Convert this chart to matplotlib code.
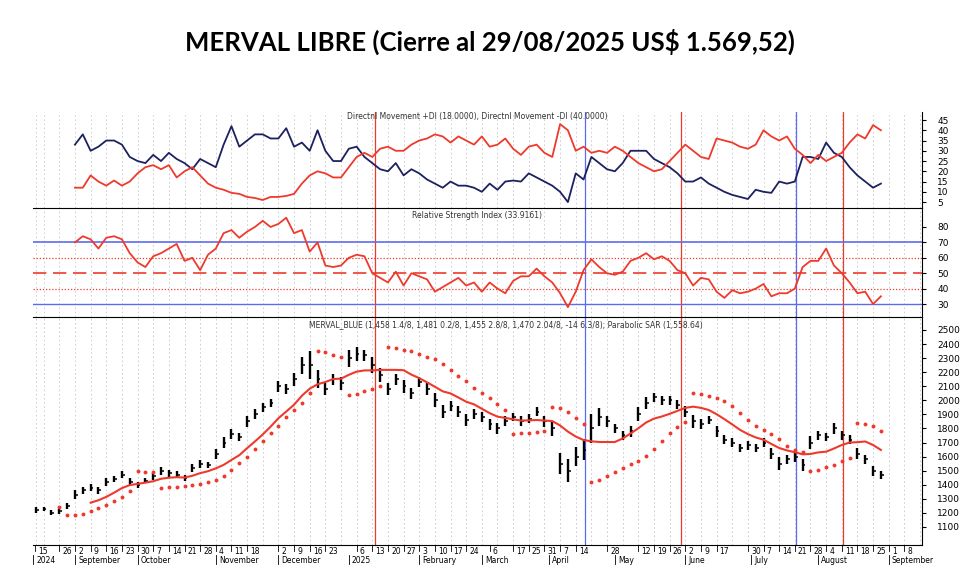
import numpy as np
import pandas as pd
import matplotlib
matplotlib.use("Agg")
import matplotlib.pyplot as plt

# x positions are in weeks since Mon 12 Aug 2024, two samples per week
WEEK = np.arange(0.5, 55.0, 0.5)

CLOSE = [1220, 1230, 1200, 1210, 1250,
         1330, 1360, 1380, 1360, 1420, 1440, 1470, 1420, 1400, 1430, 1460, 1500, 1480, 1470,
         1450, 1520, 1550, 1540, 1620, 1700, 1760, 1740, 1850, 1900, 1950, 1980, 2100, 2080,
         2150, 2250, 2250, 2150, 2080, 2150, 2120, 2300, 2330, 2320, 2250, 2180, 2080, 2150,
         2100, 2050, 2130, 2080, 2000, 1920, 1960, 1920, 1860, 1900, 1880, 1830, 1800, 1850,
         1880, 1850, 1870, 1920, 1850, 1800, 1550, 1500, 1600, 1650, 1800, 1880, 1850, 1800,
         1750, 1780, 1900, 1980, 2020, 2000, 2000, 1970, 1920, 1850, 1830, 1860, 1780, 1720,
         1700, 1660, 1680, 1660, 1700, 1620, 1550, 1580, 1600, 1540, 1700, 1750, 1740, 1800,
         1750, 1720, 1620, 1580, 1500, 1470]
RANGE = [40, 30, 35, 40, 45,
         60, 50, 45, 50, 55, 45, 50, 60, 45, 40, 50, 55, 45, 50,
         45, 60, 55, 45, 70, 80, 70, 60, 80, 70, 60, 55, 80, 70,
         90, 120, 200, 130, 90, 80, 90, 120, 100, 80, 110, 100, 90, 80,
         90, 80, 70, 80, 100, 90, 70, 80, 90, 70, 70, 80, 80, 70,
         60, 70, 60, 70, 80, 110, 150, 160, 140, 150, 200, 130, 80, 70,
         70, 80, 100, 80, 70, 60, 60, 70, 80, 90, 70, 60, 80, 60,
         70, 60, 60, 60, 70, 80, 90, 60, 70, 80, 90, 70, 60, 80,
         70, 60, 80, 60, 70, 60]

DI_PLUS = [33, 38, 30, 32, 35, 35, 33, 27, 25, 24, 28, 25, 29, 26, 24, 21, 26, 24, 22, 33,
           42, 32, 35, 38, 38, 36, 36, 41, 32, 34, 30, 40, 30, 25, 25, 31, 32, 27, 24, 21,
           20, 24, 18, 21, 19, 16, 14, 12, 15, 13, 13, 12, 10, 14, 11, 15, 15.5, 15, 19, 17,
           15, 13, 10, 5, 19, 16, 27, 24, 21, 20, 24, 30, 30, 30, 26, 24, 22, 19, 15, 15,
           17, 14, 12, 10, 8.5, 7.5, 6.5, 11, 10, 9.5, 15, 14, 15, 27, 27, 26, 34, 29, 27, 22,
           18, 15, 12, 14]
DI_MINUS = [12, 12, 18, 15, 13, 15.5, 13, 15, 19, 22, 23, 21, 23, 17, 20, 22, 18, 14, 12, 11,
            9.5, 9, 7.5, 7, 6, 7.5, 7.5, 8, 9, 14, 18, 20, 19, 17, 17, 22, 27, 29, 27, 31,
            32, 30, 30, 33, 35, 36, 38, 37, 34, 37, 35, 33, 37, 32, 33, 36, 31, 28, 32, 33,
            29, 27, 43, 40, 30, 32, 29, 30, 29, 32, 30, 27, 24, 22, 20, 21, 25, 29, 33, 30,
            27, 26, 36, 35, 34, 32, 31, 33, 40, 37, 35, 37, 31, 28, 24, 28, 25, 27, 29, 34,
            38, 36, 42.5, 40]
RSI = [70, 74, 72, 66, 73, 74, 72, 63, 57, 54, 61, 63, 66, 69, 58, 60, 52, 62, 66, 76,
       78, 73, 77, 80, 84, 80, 82, 86, 76, 78, 64, 70, 55, 54, 55, 60, 62, 61, 50, 47,
       44, 51, 42, 50, 48, 46, 38, 41, 44, 47, 42, 44, 38, 44, 40, 37, 45, 48, 48, 53,
       48, 44, 37, 28, 38, 52, 59, 54, 50, 49, 51, 58, 60, 63, 59, 61, 58, 52, 50, 42,
       47, 46, 38, 34, 39, 37, 38, 40, 43, 35, 37, 37, 40, 54, 58, 58, 66, 55, 50, 44,
       37, 38, 30, 35]

RED_SIGNALS = [22.2, 41.7, 52.1]
BLUE_SIGNALS = [35.6, 49.1]

DAY_LABELS = ["15", "26", "2", "9", "16", "23", "30", "7", "14", "21", "28", "4", "11", "18",
              "2", "9", "16", "23", "6", "13", "20", "27", "3", "10", "17", "24", "6", "17",
              "25", "31", "7", "14", "28", "12", "19", "26", "2", "9", "17", "30", "7", "14",
              "21", "28", "4", "11", "18", "25", "1", "8"]
DAY_WEEKS = [0.45, 2, 3, 4, 5, 6, 7, 8, 9, 10, 11, 12, 13, 14, 16, 17, 18, 19, 21, 22, 23, 24,
             25, 26, 27, 28, 29.5, 31, 32, 33, 34, 35, 37, 39, 40, 41, 42, 43, 44, 46, 47, 48,
             49, 50, 51, 52, 53, 54, 55, 56]
MONTH_LABELS = ["2024", "September", "October", "November", "December", "2025", "February",
                "March", "April", "May", "June", "July", "August", "September"]
MONTH_WEEKS = [0.35, 3, 7, 12, 16, 20.5, 25, 29, 33.3, 37.5, 42, 46.2, 50.5, 55]

RED = "#ee3a2c"
NAVY = "#1c2160"
BLUE = "#5c6cf0"


def pad(vals):
    return np.r_[np.full(len(WEEK) - len(vals), np.nan), vals]


def parabolic_sar(high, low, step=0.03, amax=0.2):
    n = len(high)
    sar = np.zeros(n)
    up = True
    af = step
    ep = high[0]
    sar[0] = low[0]
    for i in range(1, n):
        s = sar[i - 1] + af * (ep - sar[i - 1])
        if up:
            s = min(s, low[i - 1])
            if low[i] < s:
                up, s, ep, af = False, ep, low[i], step
            elif high[i] > ep:
                ep, af = high[i], min(af + step, amax)
        else:
            s = max(s, high[i - 1])
            if high[i] > s:
                up, s, ep, af = True, ep, high[i], step
            elif low[i] < ep:
                ep, af = low[i], min(af + step, amax)
        sar[i] = s
    return sar


close = np.array(CLOSE, float)
rng = np.array(RANGE, float)
high = close + rng / 2
low = close - rng / 2
ma = pd.Series(close).rolling(8).mean()
sar = parabolic_sar(high, low)

fig = plt.figure(figsize=(9.8, 5.84), dpi=100)
fig.text(0.5, 0.928, "MERVAL LIBRE (Cierre al 29/08/2025 US$ 1.569,52)", ha="center",
         va="center", fontsize=18.5, fontweight="bold", family="Lato")

L, W = 0.0337, 0.907
ax_di = fig.add_axes([L, 0.6438, W, 0.1644])
ax_rsi = fig.add_axes([L, 0.4572, W, 0.1866])
ax_px = fig.add_axes([L, 0.0668, W, 0.3904])

for ax in (ax_di, ax_rsi, ax_px):
    ax.set_xlim(0.32, 57.12)
    for g in np.r_[0.5, np.arange(1, 58)]:
        ax.axvline(g, color="#c8c8c8", lw=0.6, ls=(0, (2, 3)), zorder=0)
    for s in RED_SIGNALS:
        ax.axvline(s, color=RED, lw=0.9, zorder=1)
    for s in BLUE_SIGNALS:
        ax.axvline(s, color=BLUE, lw=0.9, zorder=1)
    ax.spines["left"].set_visible(False)
    ax.yaxis.tick_right()
    ax.tick_params(axis="y", labelsize=6.5, length=3, pad=8)
    ax.set_xticks([])
    for sp in ("top", "bottom", "right"):
        ax.spines[sp].set_linewidth(0.8)

# DI panel
ax_di.spines["top"].set_visible(False)
ax_di.spines["bottom"].set_visible(False)
ax_di.plot(WEEK, pad(DI_PLUS), color=NAVY, lw=1.3, zorder=3)
ax_di.plot(WEEK, pad(DI_MINUS), color=RED, lw=1.3, zorder=3)
ax_di.set_ylim(2.1, 48.9)
ax_di.set_yticks(range(5, 50, 5))
ax_di.text(0.5, 0.95, "Directnl Movement +DI (18.0000), Directnl Movement -DI (40.0000)",
           transform=ax_di.transAxes, ha="center", va="center", fontsize=5.5, color="#333333")

# RSI panel
ax_rsi.spines["bottom"].set_visible(False)
ax_rsi.axhline(70, color=BLUE, lw=1.2)
ax_rsi.axhline(30, color=BLUE, lw=1.0)
ax_rsi.axhline(50, color=RED, lw=1.2, ls=(0, (8, 4)))
ax_rsi.axhline(60, color=RED, lw=0.9, ls=(0, (1, 1.5)))
ax_rsi.axhline(40, color=RED, lw=0.9, ls=(0, (1, 1.5)))
ax_rsi.plot(WEEK, pad(RSI), color=RED, lw=1.3, zorder=3)
ax_rsi.set_ylim(21.6, 92.3)
ax_rsi.set_yticks(range(30, 90, 10))
ax_rsi.text(0.5, 0.93, "Relative Strength Index (33.9161)", transform=ax_rsi.transAxes,
            ha="center", va="center", fontsize=5.5, color="#333333")

# price panel
ax_px.vlines(WEEK, low, high, color="black", lw=1.7, zorder=3)
ax_px.hlines(close, WEEK, WEEK + 0.18, color="black", lw=1.1, zorder=3)
ax_px.plot(WEEK, ma, color=RED, lw=1.5, zorder=4)
ax_px.plot(WEEK[3:], sar[3:], ls="none", marker="o", ms=1.8, color=RED, zorder=4)
ax_px.set_ylim(972, 2592)
ax_px.set_yticks(range(1100, 2600, 100))
ax_px.text(0.31, 0.965, "MERVAL_BLUE (1,458 1.4/8, 1,481 0.2/8, 1,455 2.8/8, 1,470 2.04/8, "
           "-14 6.3/8); Parabolic SAR (1,558.64)", transform=ax_px.transAxes, ha="left",
           va="center", fontsize=5.5, color="#333333")

tr = ax_px.get_xaxis_transform()
for lab, w in zip(DAY_LABELS, DAY_WEEKS):
    ax_px.plot([w, w], [0, -0.025], color="black", lw=0.6, transform=tr, clip_on=False)
    ax_px.text(w + 0.2, -0.03, lab, transform=tr, ha="left", va="center", fontsize=5.5)
for lab, w in zip(MONTH_LABELS, MONTH_WEEKS):
    ax_px.plot([w, w], [-0.045, -0.085], color="black", lw=0.6, transform=tr, clip_on=False)
    ax_px.text(w + 0.2, -0.07, lab, transform=tr, ha="left", va="center", fontsize=5.5)

fig.savefig("out.png", dpi=100)
